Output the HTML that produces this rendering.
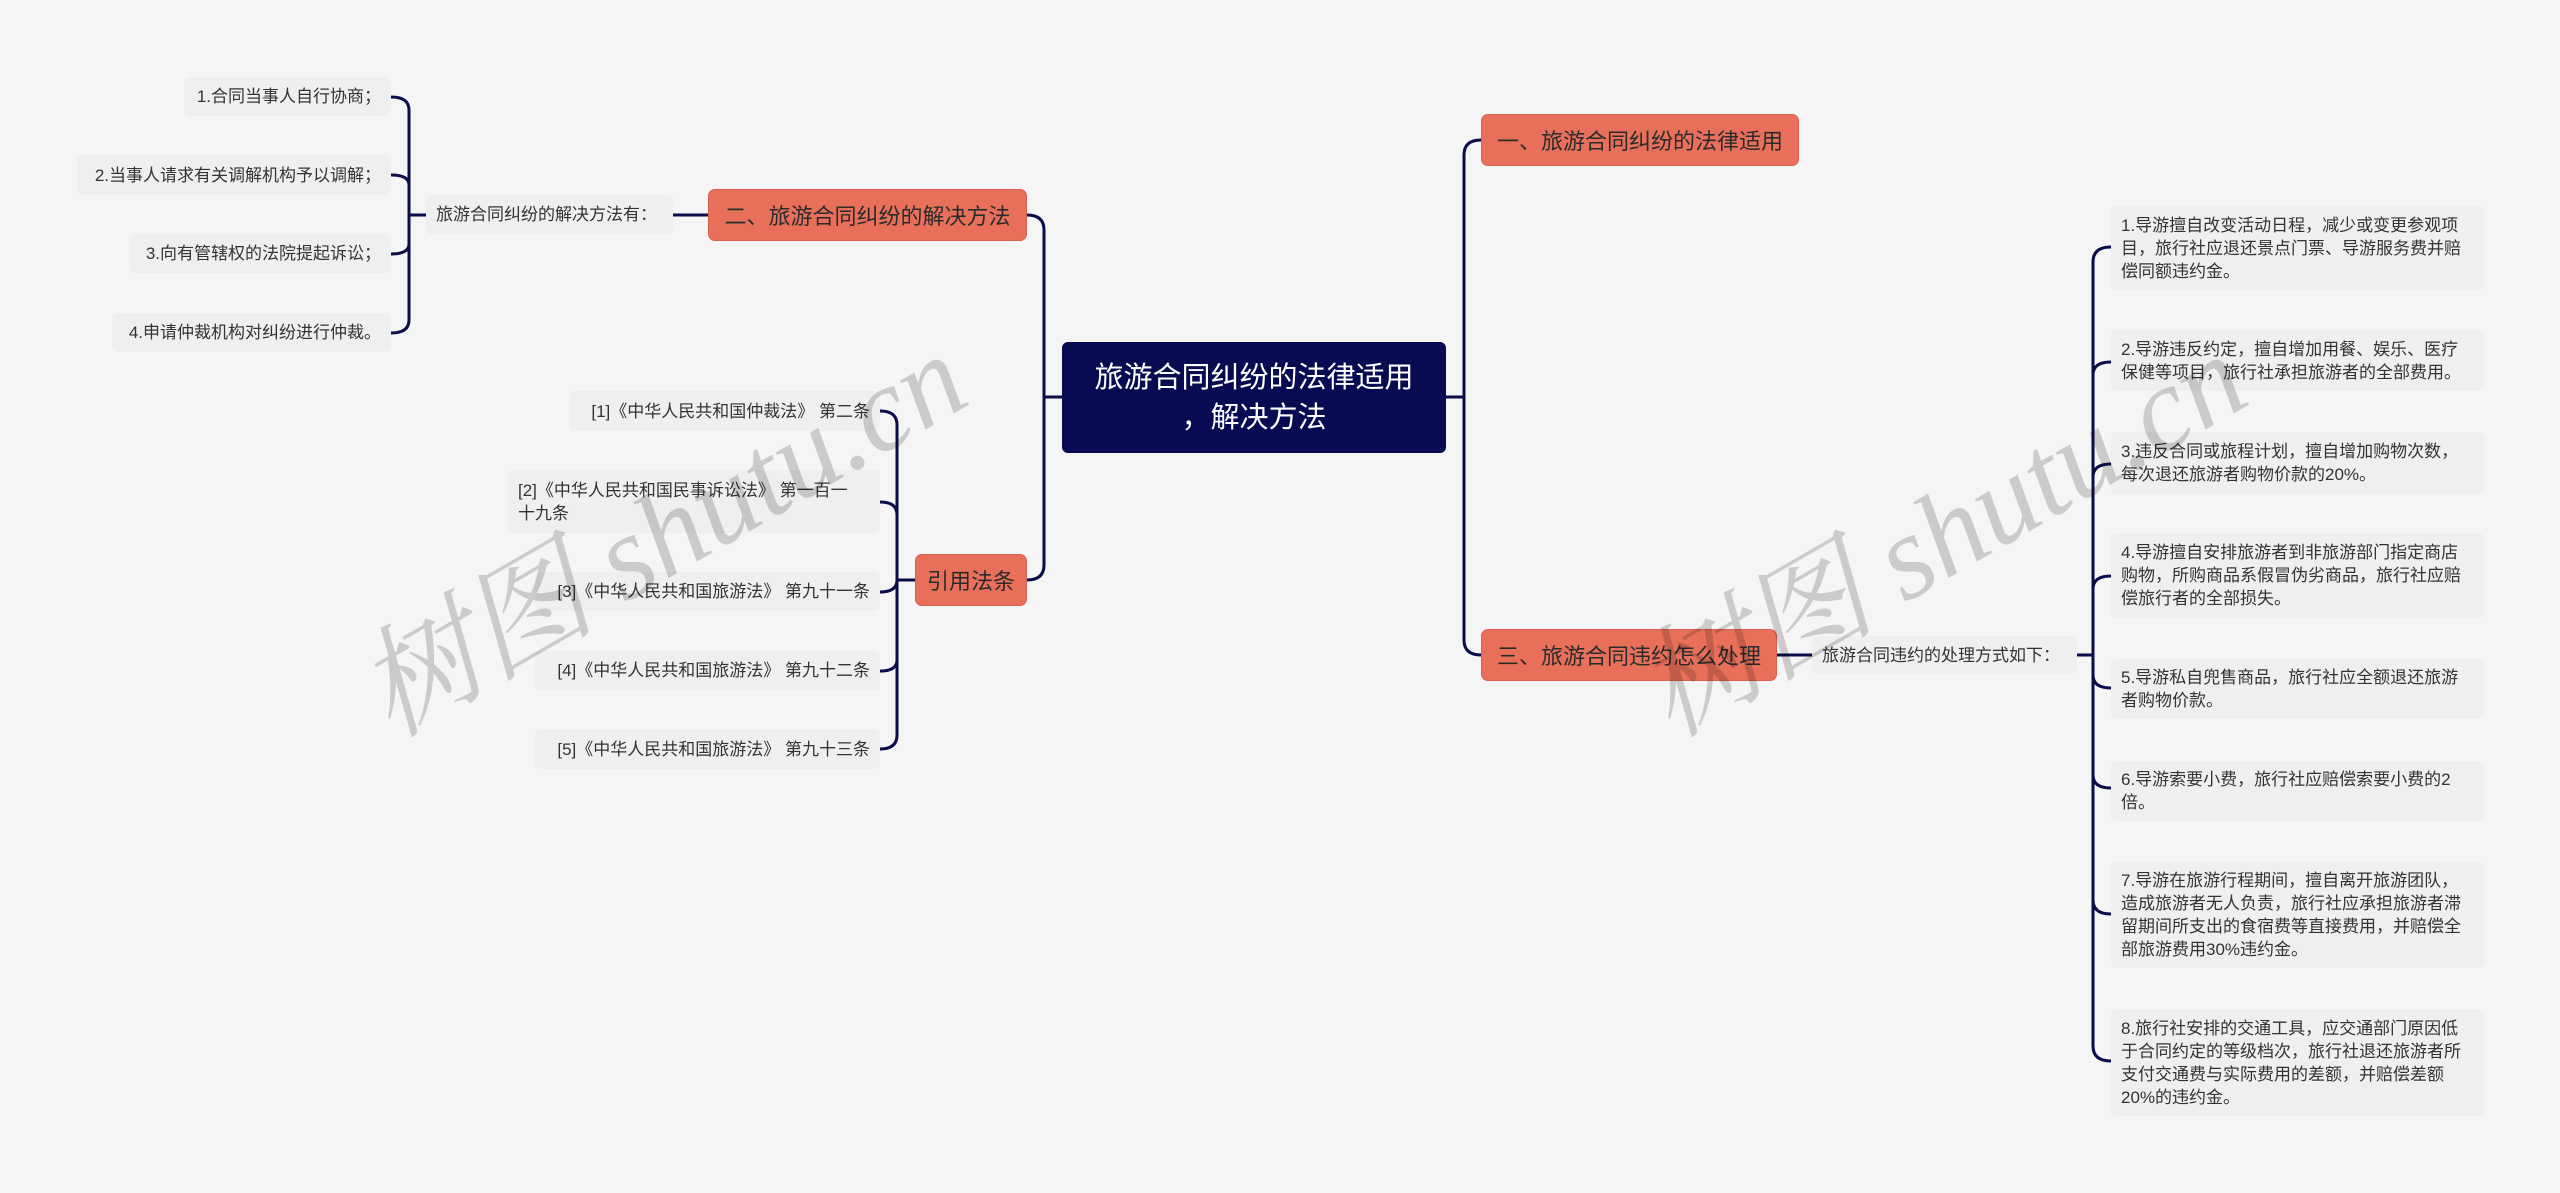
<!DOCTYPE html>
<html><head><meta charset="utf-8"><style>
body{margin:0;width:2560px;height:1193px;background:#f5f5f5;position:relative;overflow:hidden;font-family:"Liberation Sans","Noto Sans CJK SC",sans-serif;}
.b{position:absolute;box-sizing:border-box;background:#efefef;border-radius:6px;color:#333;font-size:17px;line-height:23px;display:flex;align-items:center;padding:0 10px;}
.r{justify-content:flex-end;text-align:right;}
.o{position:absolute;box-sizing:border-box;background:#e8705a;border:1px solid #d9604b;border-radius:7px;color:#2b2b2b;font-size:22px;display:flex;align-items:center;justify-content:center;white-space:nowrap;}
.c{position:absolute;box-sizing:border-box;background:#070b52;border-radius:6px;color:#fff;font-size:29px;line-height:40px;display:flex;align-items:center;justify-content:center;text-align:center;padding:0 4px;white-space:nowrap;}
.w{position:absolute;font-family:"Liberation Serif","Noto Serif CJK SC",serif;font-style:italic;font-size:120px;color:rgba(0,0,0,0.17);white-space:nowrap;transform:rotate(-30deg);transform-origin:center;}
svg{position:absolute;left:0;top:0;}
</style></head><body>
<svg width="2560" height="1193" fill="none" stroke="#0b0d4a" stroke-width="3">
<path d="M391 97 Q409 97 409 110 L409 320 Q409 333 391 333"/>
<path d="M391 175 Q409 175 409 185"/><path d="M391 254 Q409 254 409 244"/>
<path d="M409 215 L426 215"/><path d="M673 215 L708 215"/>
<path d="M1027 215 Q1044 215 1044 230 L1044 565 Q1044 580 1027 580"/>
<path d="M1044 397 L1062 397"/>
<path d="M880 411 Q897 411 897 425 L897 735 Q897 749 880 749"/>
<path d="M880 502 Q897 502 897 515"/><path d="M880 592 Q897 592 897 580"/><path d="M880 671 Q897 671 897 660"/>
<path d="M897 580 L915 580"/>
<path d="M1446 397 L1464 397"/>
<path d="M1481 140 Q1464 140 1464 155 L1464 640 Q1464 655 1481 655"/>
<path d="M1777 655 L1812 655"/><path d="M2077 655 L2093 655"/>
<path d="M2111 247 Q2093 247 2093 262 L2093 1046 Q2093 1061 2111 1061"/>
<path d="M2111 362 Q2093 362 2093 375"/><path d="M2111 464 Q2093 464 2093 477"/><path d="M2111 576 Q2093 576 2093 589"/>
<path d="M2111 688 Q2093 688 2093 675"/><path d="M2111 788 Q2093 788 2093 775"/><path d="M2111 914 Q2093 914 2093 900"/>
</svg>

<div class="b r" style="left:184px;top:77px;width:207px;height:39px;">1.合同当事人自行协商；</div>
<div class="b r" style="left:77px;top:155px;width:314px;height:40px;">2.当事人请求有关调解机构予以调解；</div>
<div class="b r" style="left:130px;top:234px;width:261px;height:39px;">3.向有管辖权的法院提起诉讼；</div>
<div class="b r" style="left:112px;top:313px;width:279px;height:39px;">4.申请仲裁机构对纠纷进行仲裁。</div>
<div class="b" style="left:426px;top:195px;width:247px;height:39px;">旅游合同纠纷的解决方法有：</div>
<div class="o" style="left:708px;top:189px;width:319px;height:52px;">二、旅游合同纠纷的解决方法</div>
<div class="o" style="left:915px;top:554px;width:112px;height:52px;">引用法条</div>

<div class="b r" style="left:570px;top:391px;width:310px;height:40px;">[1]《中华人民共和国仲裁法》 第二条</div>
<div class="b" style="left:508px;top:470px;width:372px;height:63px;">[2]《中华人民共和国民事诉讼法》 第一百一<br>十九条</div>
<div class="b r" style="left:535px;top:572px;width:345px;height:39px;">[3]《中华人民共和国旅游法》 第九十一条</div>
<div class="b r" style="left:535px;top:651px;width:345px;height:39px;">[4]《中华人民共和国旅游法》 第九十二条</div>
<div class="b r" style="left:535px;top:729px;width:345px;height:40px;">[5]《中华人民共和国旅游法》 第九十三条</div>

<div class="c" style="left:1062px;top:342px;width:384px;height:111px;">旅游合同纠纷的法律适用<br>，解决方法</div>

<div class="o" style="left:1481px;top:114px;width:318px;height:52px;">一、旅游合同纠纷的法律适用</div>
<div class="o" style="left:1481px;top:629px;width:296px;height:52px;">三、旅游合同违约怎么处理</div>
<div class="b" style="left:1812px;top:636px;width:265px;height:38px;">旅游合同违约的处理方式如下：</div>

<div class="b" style="left:2111px;top:206px;width:373px;height:84px;">1.导游擅自改变活动日程，减少或变更参观项目，旅行社应退还景点门票、导游服务费并赔偿同额违约金。</div>
<div class="b" style="left:2111px;top:330px;width:373px;height:61px;">2.导游违反约定，擅自增加用餐、娱乐、医疗保健等项目，旅行社承担旅游者的全部费用。</div>
<div class="b" style="left:2111px;top:432px;width:373px;height:62px;">3.违反合同或旅程计划，擅自增加购物次数，每次退还旅游者购物价款的20%。</div>
<div class="b" style="left:2111px;top:533px;width:373px;height:85px;">4.导游擅自安排旅游者到非旅游部门指定商店购物，所购商品系假冒伪劣商品，旅行社应赔偿旅行者的全部损失。</div>
<div class="b" style="left:2111px;top:659px;width:373px;height:60px;">5.导游私自兜售商品，旅行社应全额退还旅游者购物价款。</div>
<div class="b" style="left:2111px;top:761px;width:373px;height:60px;">6.导游索要小费，旅行社应赔偿索要小费的2倍。</div>
<div class="b" style="left:2111px;top:862px;width:373px;height:106px;">7.导游在旅游行程期间，擅自离开旅游团队，造成旅游者无人负责，旅行社应承担旅游者滞留期间所支出的食宿费等直接费用，并赔偿全部旅游费用30%违约金。</div>
<div class="b" style="left:2111px;top:1009px;width:373px;height:107px;">8.旅行社安排的交通工具，应交通部门原因低于合同约定的等级档次，旅行社退还旅游者所支付交通费与实际费用的差额，并赔偿差额20%的违约金。</div>

<div class="w" style="left:320px;top:440px;">树图 shutu.cn</div>
<div class="w" style="left:1600px;top:440px;">树图 shutu.cn</div>
</body></html>
